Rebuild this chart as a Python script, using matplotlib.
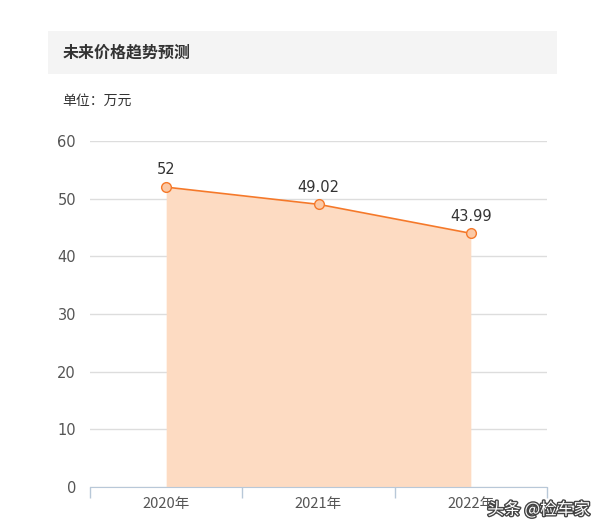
import matplotlib
matplotlib.use("Agg")
import matplotlib.pyplot as plt
import matplotlib.patheffects as pe
from matplotlib.patches import Rectangle
import numpy as np

plt.rcParams['font.family'] = ['Noto Sans CJK SC', 'DejaVu Sans']

# data
years = ['2020年', '2021年', '2022年']
prices = [52, 49.02, 43.99]
price_labels = ['52', '49.02', '43.99']
y_ticks = [0, 10, 20, 30, 40, 50, 60]

W, H = 600, 530
fig = plt.figure(figsize=(W / 100, H / 100), dpi=100)

# title panel
fig.patches.append(Rectangle((48 / W, 1 - 74 / H), 509 / W, 43 / H,
                             transform=fig.transFigure, facecolor='#f4f4f4',
                             edgecolor='none', zorder=0))
fig.text(63 / W, 1 - 53 / H, '未来价格趋势预测', fontsize=11.5, fontweight='bold',
         color='#333333', va='center', ha='left')
fig.text(62 / W, 1 - 101 / H, '单位：万元', fontsize=10, color='#333333',
         va='center', ha='left')

ax = fig.add_axes([90 / W, 43 / H, 457 / W, 346 / H])
x = np.arange(len(years))

ax.fill_between(x, 0, prices, color='#fddbc2', linewidth=0, zorder=1)
ax.plot(x, prices, color='#f5792a', linewidth=1.2, zorder=3)
ax.plot(x, prices, 'o', markersize=7, markerfacecolor='#fbc9a6',
        markeredgecolor='#f5792a', markeredgewidth=1, zorder=4)
for xi, v, lab in zip(x, prices, price_labels):
    ax.annotate(lab, (xi, v), xytext=(0, 7), textcoords='offset points',
                ha='center', va='bottom', fontsize=10.5, color='#333333',
                family=['DejaVu Sans'])

ax.set_xlim(-0.5, len(years) - 0.5)
ax.set_ylim(0, 60)
ax.set_yticks(y_ticks)
ax.set_yticklabels([str(t) for t in y_ticks], family=['DejaVu Sans'])
ax.yaxis.grid(True, color='#dddddd', linewidth=1)
ax.set_axisbelow(True)
ax.tick_params(axis='y', length=0, pad=10, labelsize=10.5, labelcolor='#555555')

ax.set_xticks(x)
ax.set_xticklabels(years)
ax.set_xticks(np.arange(-0.5, len(years)), minor=True)
ax.tick_params(axis='x', which='major', length=0, pad=7, labelsize=10.5,
               labelcolor='#555555')
ax.tick_params(axis='x', which='minor', length=8, color='#b8c8d8', width=1)

for s in ['top', 'right', 'left']:
    ax.spines[s].set_visible(False)
ax.spines['bottom'].set_color('#b8c8d8')

# watermark
fig.text(590 / W, 1 - 510 / H, '头条 @检车家', fontsize=12, color='white',
         ha='right', va='center',
         path_effects=[pe.withStroke(linewidth=2, foreground='#444444')])

fig.savefig('out.png', dpi=100)
